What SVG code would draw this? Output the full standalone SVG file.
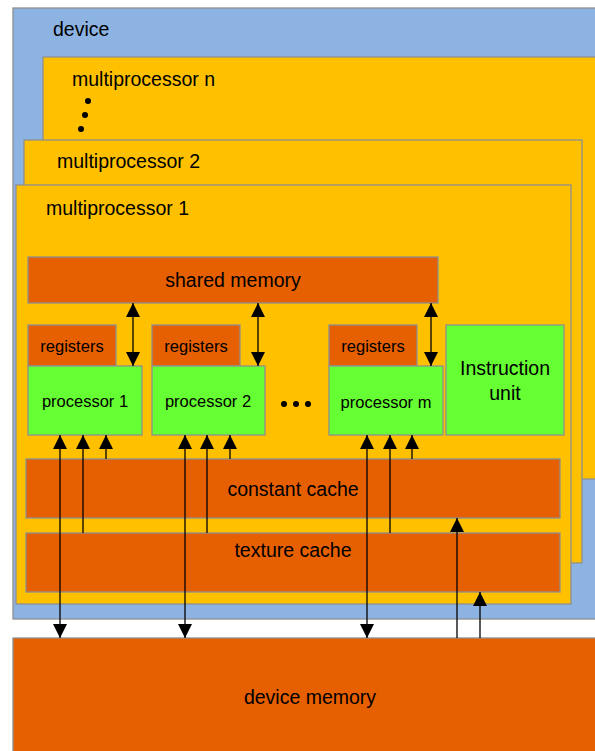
<svg xmlns="http://www.w3.org/2000/svg" width="595" height="751" viewBox="0 0 595 751">
<style>
.box{stroke:#8f8f8f;stroke-width:1.3}
.blue{fill:#8db3e2}
.yel{fill:#ffc000}
.org{fill:#e65f00}
.grn{fill:#66ff33}
text{font-family:"Liberation Sans",Arial,sans-serif;fill:#000}
.t16{font-size:19.5px}
.t14{font-size:16.5px}
.c{text-anchor:middle}
.ln{stroke:#000;stroke-width:1.3;fill:none}
</style>
<defs>
<marker id="ah" viewBox="0 0 14 14" refX="14" refY="7" markerWidth="14" markerHeight="14" markerUnits="userSpaceOnUse" orient="auto-start-reverse">
<path d="M0,0 L14,7 L0,14 z" fill="#000"/>
</marker>
</defs>
<rect width="595" height="751" fill="#fff"/>
<g id="device">
<rect class="box blue" x="13" y="8" width="590" height="611"/>
<text class="t16" x="53" y="36">device</text>
</g>
<g id="mp-n">
<rect class="box yel" x="43" y="57" width="560" height="422"/>
<text class="t16" x="72" y="86">multiprocessor n</text>
<circle cx="88" cy="101" r="3" fill="#000"/>
<circle cx="85" cy="115" r="3" fill="#000"/>
<circle cx="81" cy="129" r="3" fill="#000"/>
</g>
<g id="mp-2">
<rect class="box yel" x="24" y="140" width="558" height="423"/>
<text class="t16" x="57" y="168">multiprocessor 2</text>
</g>
<g id="mp-1">
<rect class="box yel" x="16" y="185" width="555" height="419"/>
<text class="t16" x="46" y="215">multiprocessor 1</text>
</g>
<g id="shared-memory">
<rect class="box org" x="28" y="257" width="410" height="46"/>
<text class="t16 c" x="233" y="287">shared memory</text>
</g>
<g id="registers-1">
<rect class="box org" x="28" y="325" width="88" height="41"/>
<text class="t14 c" x="72" y="352">registers</text>
</g>
<g id="processor-1">
<rect class="box grn" x="28" y="366" width="114" height="69"/>
<text class="t14 c" x="85" y="407">processor 1</text>
</g>
<g id="registers-2">
<rect class="box org" x="152" y="325" width="88" height="41"/>
<text class="t14 c" x="196" y="352">registers</text>
</g>
<g id="processor-2">
<rect class="box grn" x="152" y="366" width="113" height="69"/>
<text class="t14 c" x="208" y="407">processor 2</text>
</g>
<g id="dots">
<circle cx="284" cy="404" r="3" fill="#000"/>
<circle cx="296" cy="404" r="3" fill="#000"/>
<circle cx="308" cy="404" r="3" fill="#000"/>
</g>
<g id="registers-m">
<rect class="box org" x="329" y="325" width="88" height="41"/>
<text class="t14 c" x="373" y="352">registers</text>
</g>
<g id="processor-m">
<rect class="box grn" x="329" y="366" width="114" height="69"/>
<text class="t14 c" x="386" y="408">processor m</text>
</g>
<g id="instruction-unit">
<rect class="box grn" x="446" y="325" width="118" height="110"/>
<text class="t16 c" x="505" y="375">Instruction</text>
<text class="t16 c" x="505" y="400">unit</text>
</g>
<g id="constant-cache">
<rect class="box org" x="26" y="459" width="534" height="59"/>
<text class="t16 c" x="293" y="496">constant cache</text>
</g>
<g id="texture-cache">
<rect class="box org" x="26" y="533" width="534" height="59"/>
<text class="t16 c" x="293" y="557">texture cache</text>
</g>
<g id="device-memory">
<rect class="box org" x="13" y="638" width="590" height="120"/>
<text class="t16 c" x="310" y="704">device memory</text>
</g>
<g id="connectors">
<line class="ln" x1="133" y1="303" x2="133" y2="366" marker-start="url(#ah)" marker-end="url(#ah)"/>
<line class="ln" x1="258" y1="303" x2="258" y2="366" marker-start="url(#ah)" marker-end="url(#ah)"/>
<line class="ln" x1="431" y1="303" x2="431" y2="366" marker-start="url(#ah)" marker-end="url(#ah)"/>
<line class="ln" x1="60" y1="435" x2="60" y2="638" marker-start="url(#ah)" marker-end="url(#ah)"/>
<line class="ln" x1="185" y1="435" x2="185" y2="638" marker-start="url(#ah)" marker-end="url(#ah)"/>
<line class="ln" x1="367" y1="435" x2="367" y2="638" marker-start="url(#ah)" marker-end="url(#ah)"/>
<line class="ln" x1="83" y1="533" x2="83" y2="435" marker-end="url(#ah)"/>
<line class="ln" x1="207" y1="533" x2="207" y2="435" marker-end="url(#ah)"/>
<line class="ln" x1="390" y1="533" x2="390" y2="435" marker-end="url(#ah)"/>
<line class="ln" x1="106" y1="459" x2="106" y2="435" marker-end="url(#ah)"/>
<line class="ln" x1="230" y1="459" x2="230" y2="435" marker-end="url(#ah)"/>
<line class="ln" x1="412" y1="459" x2="412" y2="435" marker-end="url(#ah)"/>
<line class="ln" x1="457" y1="638" x2="457" y2="518" marker-end="url(#ah)"/>
<line class="ln" x1="480" y1="638" x2="480" y2="592" marker-end="url(#ah)"/>
</g>
</svg>
